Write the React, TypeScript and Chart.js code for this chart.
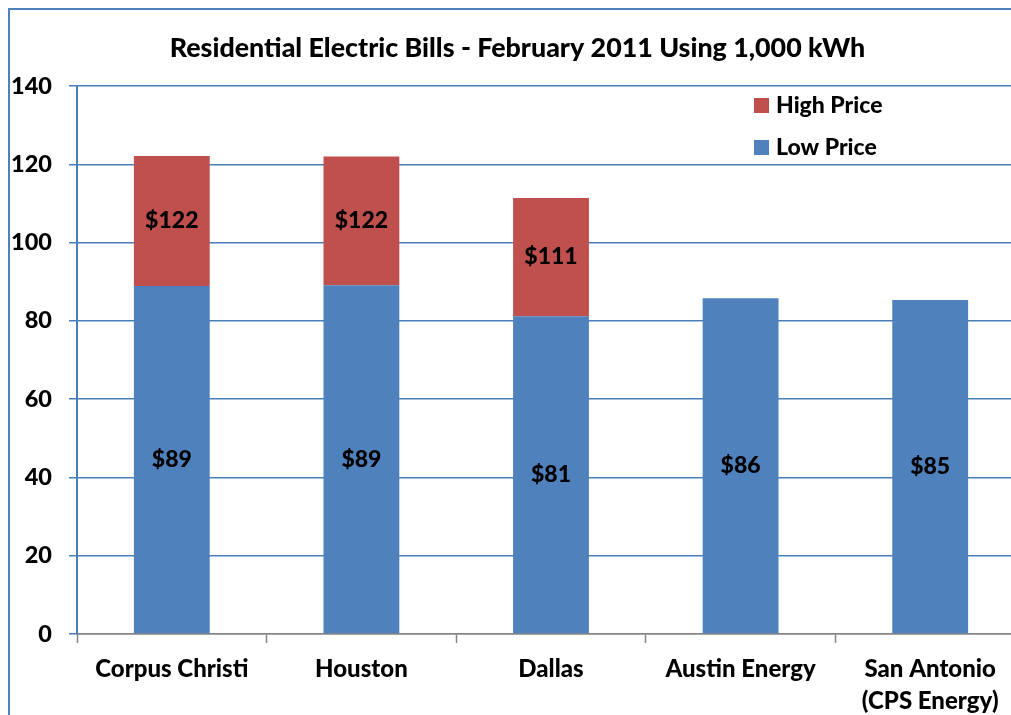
import React, { useEffect, useRef } from "react";
import { Chart, registerables } from "chart.js";

Chart.register(...registerables);

const titleText = "Residential Electric Bills - February 2011 Using 1,000 kWh";
const categories: (string | string[])[] = [
  "Corpus Christi",
  "Houston",
  "Dallas",
  "Austin Energy",
  ["San Antonio", "(CPS Energy)"],
];
const lowPrice = [88.9, 89.1, 81.2, 85.8, 85.3];
const highPriceExtra = [33.2, 32.9, 30.2, 0, 0];
const yTicks = [0, 20, 40, 60, 80, 100, 120, 140];

const BLUE = "#4F81BD";
const RED = "#C0504D";
const GRID = "#4A7EBB";
const AXIS_GRAY = "#868686";
const FONT = "Lato, 'Noto Sans', sans-serif";
const W = 900;

const labelPlugin = {
  id: "barLabels",
  afterDatasetsDraw(chart: any) {
    const ctx = chart.ctx;
    ctx.save();
    ctx.font = `${W} 23px ${FONT}`;
    ctx.fillStyle = "#000";
    ctx.textAlign = "center";
    ctx.textBaseline = "middle";
    chart.data.datasets.forEach((ds: any, di: number) => {
      const meta = chart.getDatasetMeta(di);
      meta.data.forEach((el: any, i: number) => {
        const v = ds.data[i];
        if (!v) return;
        let shown = v;
        if (ds.label === "High Price") shown = lowPrice[i] + highPriceExtra[i];
        const { x, y, base } = el.getProps(["x", "y", "base"], true);
        ctx.fillText("$" + Math.round(shown), x, (y + base) / 2);
      });
    });
    ctx.restore();
  },
};

const legendPlugin = {
  id: "customLegend",
  afterDraw(chart: any) {
    const ctx = chart.ctx;
    ctx.save();
    const items = [...chart.data.datasets].reverse();
    items.forEach((ds: any, i: number) => {
      const cy = 96 + i * 42;
      ctx.fillStyle = ds.backgroundColor;
      ctx.fillRect(744, cy - 8, 15, 15);
      ctx.fillStyle = "#000";
      ctx.font = `${W} 23px ${FONT}`;
      ctx.textAlign = "left";
      ctx.textBaseline = "middle";
      ctx.fillText(ds.label, 766, cy);
    });
    ctx.restore();
  },
};

export default function App() {
  const ref = useRef<HTMLCanvasElement | null>(null);
  useEffect(() => {
    if (!ref.current) return;
    const chart = new Chart(ref.current, {
      type: "bar",
      data: {
        labels: categories as any,
        datasets: [
          {
            label: "Low Price",
            data: lowPrice,
            backgroundColor: BLUE,
            barPercentage: 0.4,
            categoryPercentage: 1,
          },
          {
            label: "High Price",
            data: highPriceExtra,
            backgroundColor: RED,
            barPercentage: 0.4,
            categoryPercentage: 1,
          },
        ],
      },
      options: {
        animation: false,
        responsive: false,
        layout: { padding: { left: 0, right: 15, top: 0, bottom: 0 } },
        plugins: {
          legend: { display: false },
          tooltip: { enabled: false },
          title: {
            display: true,
            text: titleText,
            color: "#000",
            font: { family: FONT, size: 26.8, weight: W, lineHeight: 1.2 },
            padding: { top: 22.5, bottom: 21.3 },
          },
        },
        scales: {
          x: {
            stacked: true,
            grid: {
              drawOnChartArea: false,
              drawTicks: true,
              tickLength: 9,
              tickColor: AXIS_GRAY,
              tickWidth: 1.5,
            },
            border: { color: AXIS_GRAY, width: 1.5 },
            ticks: {
              color: "#000",
              font: { family: FONT, size: 24, weight: W, lineHeight: 1.35 },
              padding: 10,
              maxRotation: 0,
              autoSkip: false,
            },
            afterFit(scale: any) {
              scale.height = 96;
            },
          },
          y: {
            stacked: true,
            min: 0,
            max: 140,
            afterBuildTicks(scale: any) {
              scale.ticks = yTicks.map((v) => ({ value: v }));
            },
            grid: {
              color: (c: any) => (c.tick && c.tick.value === 0 ? AXIS_GRAY : GRID),
              lineWidth: 1.5,
              tickLength: 8,
              tickColor: GRID,
            },
            border: { color: GRID, width: 2 },
            ticks: {
              color: "#000",
              font: { family: FONT, size: 23.5, weight: W },
              padding: 17,
            },
            afterFit(scale: any) {
              scale.width = 67;
            },
          },
        },
      },
      plugins: [labelPlugin, legendPlugin],
    } as any);
    return () => chart.destroy();
  }, []);

  return (
    <div
      style={{
        position: "fixed",
        left: 8,
        top: 8,
        width: 1003,
        height: 707,
        overflow: "hidden",
        borderTop: `2px solid ${BLUE}`,
        borderLeft: `2px solid ${BLUE}`,
        boxSizing: "border-box",
        background: "#fff",
      }}
    >
      <canvas
        ref={ref}
        width={1030}
        height={720}
        style={{ position: "absolute", left: 0, top: 0, display: "block" }}
      />
    </div>
  );
}
